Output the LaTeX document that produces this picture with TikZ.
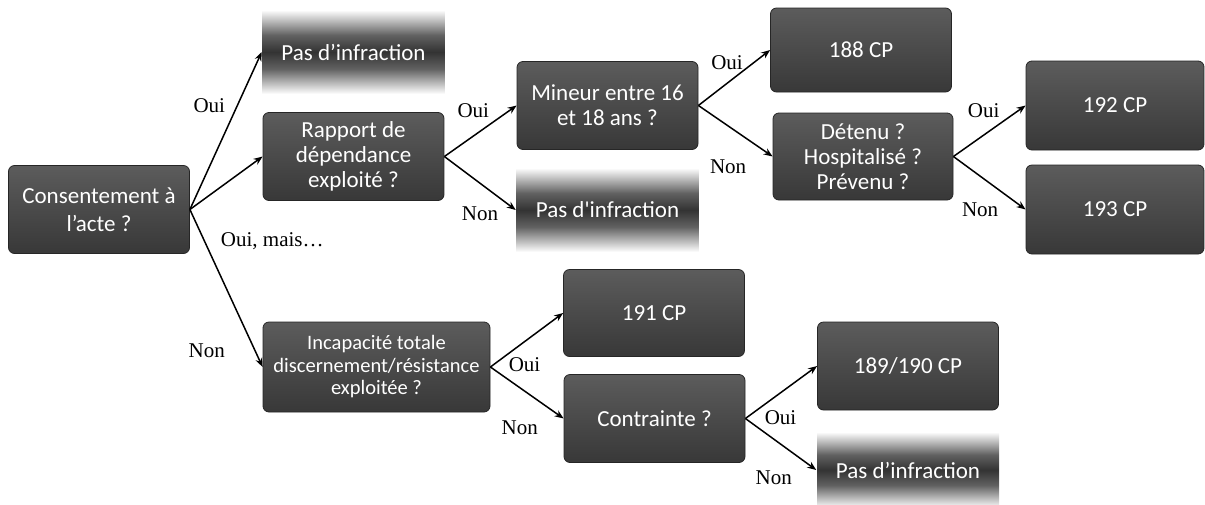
\documentclass[tikz,border=0pt]{standalone}
\usepackage{fontspec}
\setmainfont{Liberation Serif}
\newfontfamily\boxfont{Carlito}
\usetikzlibrary{arrows,arrows.meta}

\definecolor{boxtop}{RGB}{92,92,92}
\definecolor{boxbot}{RGB}{56,56,56}
\definecolor{boxline}{RGB}{38,38,38}
\pgfdeclareverticalshading{fadeband}{100bp}{color(0bp)=(white); color(25bp)=(white); color(40bp)=(black!62); color(50bp)=(black!80); color(60bp)=(black!62); color(75bp)=(white); color(100bp)=(white)}

\begin{document}
\begin{tikzpicture}
		[x=1pt, y=-1pt, >={Stealth[length=9pt,width=7pt]}, line width=1.5pt,
		main/.style = {draw=boxline, line width=0.8pt, rounded corners=6pt, top color=boxtop, bottom color=boxbot, text=white, align=center, inner sep=0pt, minimum width=181pt, minimum height=88pt, font=\boxfont\fontsize{23}{25}\selectfont},
		fade/.style = {shade, shading=fadeband, text=white, inner sep=0pt, minimum width=182pt, minimum height=84pt, font=\boxfont\fontsize{23}{25}\selectfont},
		lbl/.style = {font=\fontsize{21}{23}\selectfont, inner sep=0pt}]
        \useasboundingbox (0,0) rectangle (1205,504);

        \node[main, font=\boxfont\fontsize{23}{27.5}\selectfont] (1) at (99,209.5) {Consentement à\\l’acte ?};
        \node[fade] (2) at (353.5,52) {Pas d’infraction};
        \node[main] (3) at (353.5,156.5) {Rapport de\\dépendance\\exploité ?};
        \node[main, minimum width=227pt, minimum height=90pt, font=\boxfont\fontsize{20.5}{22.5}\selectfont] (4) at (376.5,367) {Incapacité totale\\discernement/résistance\\exploitée ?};
        \node[main] (5) at (607.5,105.5) {Mineur entre 16\\et 18 ans ?};
        \node[fade] (6) at (607.5,210) {Pas d\textquotesingle infraction};
        \node[main, minimum height=84pt] (7) at (861,50) {188 CP};
        \node[main, minimum width=180pt, minimum height=87pt] (8) at (863,156.5) {Détenu ?\\Hospitalisé ?\\Prévenu ?};
        \node[main, minimum width=178pt, minimum height=89pt] (9) at (1115,105.5) {192 CP};
        \node[main, minimum width=178pt, minimum height=89pt] (10) at (1115,209.5) {193 CP};
        \node[main, minimum height=87pt] (11) at (654,313) {191 CP};
        \node[main] (12) at (654.5,418.5) {Contrainte ?};
        \node[main] (13) at (908,366) {189/190 CP};
        \node[fade, minimum height=76pt] (14) at (908,470) {Pas d’infraction};

        \draw[->] (1.east) -- node[lbl, pos=0.66, xshift=-28pt] {Oui} (2.west);
        \draw[->] (1.east) -- node[lbl, pos=0.5, xshift=46pt, yshift=-58pt] {Oui, mais…} (3.west);
        \draw[->] (1.east) -- node[lbl, pos=0.85, xshift=-45pt, yshift=-7pt] {Non} (4.west);
        \draw[->] (3.east) -- node[lbl, pos=0.4, yshift=25pt] {Oui} (5.west);
        \draw[->] (3.east) -- node[lbl, pos=0.5, yshift=-30pt] {Non} (6.west);
        \draw[->] (5.east) -- node[lbl, pos=0.4, yshift=21pt] {Oui} (7.west);
        \draw[->] (5.east) -- node[lbl, pos=0.4, yshift=-41pt] {Non} (8.west);
        \draw[->] (8.east) -- node[lbl, pos=0.42, yshift=24pt] {Oui} (9.west);
        \draw[->] (8.east) -- node[lbl, pos=0.37, yshift=-34pt] {Non} (10.west);
        \draw[->] (4.east) -- node[lbl, pos=0.47, yshift=-23pt] {Oui} (11.west);
        \draw[->] (4.east) -- node[lbl, pos=0.4, yshift=-40pt] {Non} (12.west);
        \draw[->] (12.east) -- node[lbl, pos=0.49, yshift=-25pt] {Oui} (13.west);
        \draw[->] (12.east) -- node[lbl, pos=0.4, yshift=-39pt] {Non} (14.west);
	\end{tikzpicture}
\end{document}
